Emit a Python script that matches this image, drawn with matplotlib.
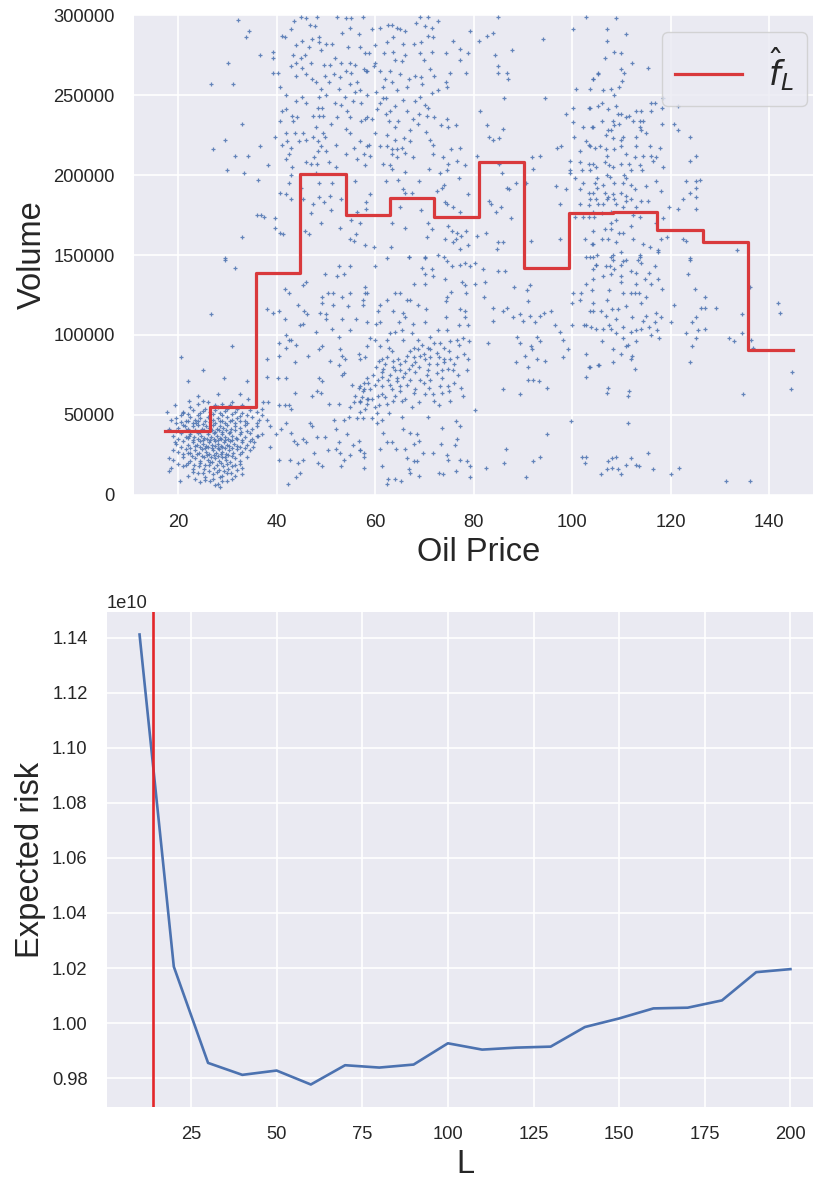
import numpy as np
import matplotlib
matplotlib.use("Agg")
import matplotlib.pyplot as plt

# ---------------- data ----------------
# Step estimate f_L : bin edges (oil price) and bin means (volume, thousands)
bin_edges = [17.4, 26.5, 35.9, 44.8, 54.0, 63.0, 72.0, 81.2, 90.3, 99.3, 108.3, 117.3, 126.6, 135.8, 144.8]
bin_means_k = [40.1, 55.3, 138.8, 200.4, 174.9, 185.9, 173.8, 207.9, 142.0, 176.0, 176.8, 165.8, 158.0, 90.5]

# Scatter points (oil price, volume in thousands), read region by region
pts_upper_left = [
    (32.2, 297), (34.4, 290), (33.8, 286), (30.2, 270), (26.7, 257), (31.2, 257), (39.3, 277), (39.3, 273),
    (36.7, 275), (39.3, 264), (40.3, 264), (40.6, 255), (41.1, 287), (41.6, 286), (42.9, 291), (43.5, 296),
    (44.9, 299), (45.9, 298), (46.8, 294), (47.7, 293), (48.2, 299), (45.2, 284), (46.5, 280), (47.2, 285),
    (48.7, 286), (48.7, 283), (50.0, 282), (51.3, 282), (52.2, 299), (54.1, 298), (55.2, 298), (57.5, 299),
    (53.3, 289), (54.8, 292), (56.7, 288), (54.5, 280), (58.7, 276), (43.4, 275), (44.9, 273), (45.7, 275),
    (43.9, 270), (43.0, 268), (45.2, 267), (45.9, 263), (47.2, 260), (48.0, 258), (49.7, 269), (50.9, 269),
    (51.9, 273), (53.0, 270), (54.9, 270), (56.0, 269), (54.0, 265), (55.2, 264), (57.7, 266), (58.4, 265),
    (49.8, 262), (51.6, 263), (52.8, 261), (50.6, 258), (52.6, 254), (54.9, 257), (56.3, 258), (57.0, 253),
    (49.1, 254), (48.6, 249), (45.2, 249), (48.3, 242), (51.8, 245), (53.9, 249), (55.5, 246), (57.2, 245),
    (41.8, 241), (43.1, 237), (44.1, 236), (43.4, 234), (47.3, 237), (48.6, 237), (49.4, 237), (40.6, 234),
    (49.3, 242), (52.2, 236), (54.2, 240), (57.1, 234), (58.4, 236), (32.9, 232), (29.6, 222), (27.0, 216),
    (31.6, 212), (34.1, 212), (29.9, 203), (33.4, 201), (36.7, 218), (38.3, 206), (39.7, 224), (41.9, 226),
    (43.8, 226), (42.1, 221), (41.1, 219), (42.5, 213), (41.8, 210), (43.1, 205), (43.0, 217), (44.5, 221),
    (45.4, 226), (47.4, 224), (48.4, 221), (49.4, 226), (49.9, 224), (47.6, 211), (48.4, 215), (46.9, 207),
    (48.2, 207), (49.1, 218), (45.9, 208), (50.6, 208), (52.0, 219), (54.1, 229), (54.9, 226), (57.0, 221),
    (55.7, 217), (56.4, 210), (57.8, 213), (58.7, 219), (48.0, 201), (42.5, 195), (40.7, 189), (42.0, 188),
    (42.9, 185), (45.4, 185), (47.3, 182), (48.7, 186), (49.7, 183), (50.9, 187), (51.2, 195), (48.6, 195),
    (36.3, 197), (36.1, 175), (36.9, 175), (37.5, 174), (39.6, 173), (39.6, 167), (40.7, 164), (41.2, 163),
    (45.7, 165), (46.5, 163), (52.9, 167), (55.1, 172), (56.3, 177), (58.1, 179), (56.1, 163), (55.8, 159),
    (58.0, 156), (32.9, 161), (29.6, 148),
    (42, 250), (44, 262), (46, 245), (47, 270), (49, 278), (50, 250), (51, 232), (53, 244), (55, 236),
    (56, 252), (57, 280), (44, 281), (46, 222), (48, 230), (50, 215), (52, 205), (54, 213), (56, 196),
    (58, 206), (43, 200), (45, 192), (47, 176), (49, 170), (51, 178), (53, 185), (55, 160), (57, 170),
    (59, 188), (41, 240), (44, 246),
]

pts_upper_mid = [
    (59.3, 291), (61.0, 292), (62.7, 294), (64.4, 292), (65.0, 291), (63.4, 294), (69.1, 299), (70.8, 299),
    (72.8, 296), (68.3, 295), (70.1, 293), (71.5, 292), (70.8, 287), (71.8, 286), (69.3, 283), (67.8, 282),
    (65.6, 282), (63.7, 286), (62.4, 283), (60.0, 281), (58.0, 276), (61.8, 276), (63.7, 277), (66.1, 275),
    (65.4, 271), (63.0, 265), (61.0, 265), (58.2, 265), (59.7, 268), (65.1, 263), (66.8, 260), (69.4, 261),
    (71.1, 266), (69.1, 276), (71.5, 277), (74.4, 276), (75.9, 284), (77.2, 279), (78.9, 276), (77.2, 272),
    (75.3, 264), (78.5, 264), (74.4, 258), (74.7, 255), (72.7, 253), (71.5, 251), (69.5, 257), (66.4, 255),
    (64.4, 253), (63.4, 258), (61.7, 255), (60.2, 252), (58.3, 250), (61.6, 248), (62.2, 248), (65.6, 247),
    (68.0, 246), (69.1, 249), (70.1, 244), (70.8, 242), (66.4, 240), (64.1, 243), (62.2, 238), (60.3, 241),
    (59.3, 235), (58.0, 235), (62.9, 234), (64.7, 234), (67.6, 235), (70.6, 237), (74.7, 235), (74.9, 230),
    (76.4, 231), (73.4, 231), (68.8, 232), (64.1, 230), (65.8, 223), (62.4, 225), (64.1, 222), (67.0, 221),
    (70.4, 227), (71.2, 222), (71.8, 219), (61.0, 218), (62.4, 218), (63.4, 216), (64.4, 216), (65.4, 217),
    (58.3, 218), (59.0, 212), (63.4, 213), (64.4, 211), (67.6, 211), (71.7, 213), (73.7, 211), (75.5, 216),
    (77.2, 217), (74.8, 207), (76.6, 209), (78.3, 206), (74.7, 203), (73.1, 201), (61.6, 207), (63.4, 204),
    (66.1, 202), (62.2, 196), (64.7, 197), (65.6, 191), (66.1, 189), (67.4, 189), (72.5, 190), (73.5, 192),
    (58.2, 183), (74.2, 183), (74.7, 182), (75.8, 180), (69.4, 178), (77.2, 177), (78.9, 188), (63.4, 170),
    (66.1, 167), (70.8, 170), (71.5, 166), (74.9, 168), (75.6, 165), (76.6, 164), (77.4, 162), (76.5, 160),
    (78.4, 165), (70.5, 161), (74.2, 160), (75.8, 158), (77.2, 154), (78.9, 156), (80.7, 162), (59.7, 155),
    (63.2, 155), (66.8, 149), (70.1, 149), (73.9, 149), (79.3, 290), (81.2, 284), (82.8, 287), (84.0, 289),
    (85.0, 299), (84.3, 275), (87.8, 278), (85.0, 268), (85.0, 264), (86.7, 264), (86.9, 260), (94.1, 285),
    (86.1, 248), (81.4, 240), (82.8, 231), (83.2, 224), (84.0, 222), (85.2, 223), (85.9, 229), (80.7, 212),
    (85.2, 207), (85.7, 201), (86.7, 192), (87.2, 191), (88.6, 195), (90.6, 195), (83.2, 184), (83.6, 182),
    (85.5, 180), (84.6, 177), (87.6, 173), (82.5, 164), (85.0, 158), (85.9, 158), (84.7, 154), (91.6, 159),
    (91.8, 211), (93.5, 212), (92.1, 204), (94.5, 248), (96.8, 193), (97.5, 182), (98.7, 191), (97.8, 218),
    (96.9, 217), (97.5, 160), (99.5, 209), (99.5, 203), (99.5, 201), (100.2, 291), (102.9, 299), (100.8, 254),
    (103.6, 254), (104.3, 260), (105.2, 263), (98.7, 238), (100.2, 242), (100.2, 233), (100.3, 224),
    (102.2, 230), (103.6, 242), (102.9, 221), (103.6, 218), (104.6, 217), (104.3, 230), (101.6, 215),
    (101.6, 208), (102.0, 203), (103.6, 203), (104.3, 207), (100.5, 198), (101.6, 191), (102.3, 195),
    (104.3, 189), (105.0, 192), (101.6, 182), (103.6, 185), (105.3, 182), (100.5, 174), (102.3, 174),
    (103.4, 174), (104.5, 174), (102.6, 160), (104.0, 157), (104.3, 149), (102.9, 149),
    (60, 270), (62, 260), (64, 272), (66, 290), (68, 262), (70, 272), (72, 262), (61, 245), (63, 240),
    (67, 228), (69, 238), (72, 236), (60, 226), (63, 206), (66, 214), (69, 196), (71, 204), (74, 194),
    (77, 198), (65, 180),
]

pts_upper_right = [
    (109.0, 298), (107.1, 291), (110.9, 288), (107.1, 284), (108.5, 277), (110.0, 276), (106.6, 273),
    (112.2, 270), (115.4, 267), (105.2, 264), (104.2, 260), (110.0, 266), (110.6, 264), (110.2, 259),
    (106.2, 253), (107.9, 254), (109.6, 255), (108.6, 250), (116.1, 245), (116.8, 245), (118.2, 242),
    (116.1, 240), (118.5, 248), (121.5, 243), (103.5, 242), (105.2, 243), (107.3, 241), (109.3, 238),
    (110.0, 238), (111.6, 237), (113.0, 240), (108.3, 234), (108.6, 231), (109.6, 232), (112.3, 234),
    (113.7, 234), (114.4, 234), (106.0, 234), (107.3, 228), (106.8, 225), (108.3, 223), (110.3, 224),
    (113.7, 230), (114.0, 228), (113.0, 224), (118.3, 232), (120.8, 232), (121.5, 228), (123.9, 224),
    (103.5, 219), (105.6, 218), (106.9, 216), (108.6, 216), (110.0, 218), (111.0, 213), (112.7, 211),
    (114.4, 212), (115.8, 218), (117.8, 217), (116.4, 209), (117.1, 211), (125.2, 212), (123.9, 209),
    (103.5, 207), (104.9, 205), (106.6, 208), (107.6, 206), (108.3, 205), (110.0, 207), (111.6, 207),
    (113.7, 206), (118.5, 205), (114.3, 203), (107.0, 200), (107.7, 199), (110.6, 200), (104.6, 195),
    (106.3, 194), (108.6, 195), (110.3, 195), (112.0, 194), (112.7, 191), (117.1, 196), (123.2, 196),
    (125.2, 196), (126.0, 197), (103.5, 189), (106.6, 189), (108.3, 188), (110.0, 189), (111.0, 187),
    (118.0, 190), (123.9, 189), (125.2, 192), (104.9, 185), (107.3, 186), (108.6, 185), (111.0, 184),
    (112.0, 185), (114.0, 184), (122.5, 185), (125.1, 186), (103.5, 181), (106.3, 182), (108.9, 182),
    (110.3, 180), (115.4, 184), (119.7, 180), (121.5, 179), (125.1, 179), (104.2, 177), (107.9, 177),
    (112.3, 175), (113.7, 174), (118.5, 173), (104.2, 165), (106.6, 166), (107.9, 170), (109.6, 164),
    (110.3, 164), (119.2, 161), (122.5, 160), (123.2, 159), (104.2, 157), (107.3, 160), (109.0, 158),
    (112.3, 160), (114.4, 157), (115.8, 155), (117.4, 153), (133.4, 153), (113.7, 150), (107.9, 149),
    (123.9, 148),
    (104, 230), (106, 245), (107, 212), (108, 228), (109, 243), (110, 222), (111, 236), (112, 203),
    (113, 218), (114, 240), (115, 226), (116, 212), (105, 198), (107, 185), (109, 172), (111, 198),
    (113, 180), (115, 193), (117, 170), (106, 176), (108, 166), (112, 168), (118, 160), (106, 160),
]

pts_cluster = [
    (24, 57), (26, 58), (27.5, 56), (29, 57), (31, 58), (33, 56), (25, 59),
    (21, 52), (23, 53), (24.5, 51), (25.5, 54), (26.5, 52), (27.5, 53), (28.5, 51), (30, 54), (31.5, 52),
    (33, 51), (34.5, 53), (36, 52), (37, 54),
    (19.5, 48), (21.5, 46), (22.5, 49), (23.5, 47), (24.5, 48), (25.5, 46), (26, 49), (27, 47), (28, 48),
    (29, 46), (30, 49), (31, 47), (32, 48), (33.5, 46), (35, 49), (36.5, 47),
    (20, 42), (21, 44), (22, 41), (23, 43), (24, 44), (24.8, 41), (25.6, 43), (26.3, 42), (27, 44),
    (27.8, 41), (28.5, 43), (29.2, 42), (30, 44), (30.8, 41), (31.5, 43), (32.5, 42), (33.5, 44), (35, 41),
    (36, 43),
    (19, 37), (20.5, 39), (21.5, 36), (22.5, 38), (23.3, 36), (24, 39), (24.7, 37), (25.3, 35.5), (26, 38),
    (26.6, 36), (27.2, 39), (27.8, 37), (28.4, 35.5), (29, 38), (29.6, 36), (30.3, 39), (31, 37),
    (31.8, 35.5), (32.6, 38), (33.5, 36), (34.5, 39), (36, 37),
    (19.5, 32), (21, 34), (22, 31), (23, 33), (23.8, 31), (24.5, 34), (25.1, 32), (25.7, 30.5), (26.3, 33),
    (26.9, 31), (27.5, 34), (28.1, 32), (28.7, 30.5), (29.3, 33), (29.9, 31), (30.6, 34), (31.3, 32),
    (32, 30.5), (33, 33), (34, 31), (35.5, 33),
    (20, 27), (21.5, 29), (22.5, 26), (23.5, 28), (24.2, 26), (24.9, 29), (25.6, 27), (26.3, 25.5), (27, 28),
    (27.6, 26), (28.3, 29), (29, 27), (29.7, 25.5), (30.4, 28), (31.2, 26), (32, 29), (33, 27), (34.5, 28),
    (19, 22), (21, 24), (22.5, 21), (23.5, 23), (24.5, 21), (25.3, 24), (26, 22), (26.8, 20.5), (27.5, 23),
    (28.2, 21), (29, 24), (29.8, 22), (30.6, 20.5), (31.5, 23), (32.5, 21), (34, 24),
    (18.5, 17), (21.5, 19), (23, 16), (24.2, 18), (25.2, 16), (26.2, 19), (27.2, 17), (28.2, 15.5),
    (29.2, 18), (30.2, 16), (31.5, 19), (33, 17),
    (22, 12), (24, 14), (25.5, 11), (27, 13), (28.5, 11), (30, 14), (31.5, 12), (33, 13), (29, 12),
    (24.5, 8), (26.5, 9), (28, 7), (30, 9), (27.5, 6),
    (22.5, 55), (28, 55), (30.5, 56), (32, 54),
    (20.5, 50), (22, 50.5), (24, 50), (25, 52.5), (27, 50.5), (29, 50), (29.5, 52.5), (31, 50.5),
    (32.5, 49.5), (34, 50),
    (20.5, 45.5), (22, 46.5), (23, 45), (24, 46), (25, 44.5), (26.5, 45.5), (27.5, 45), (28.5, 46.5),
    (29.5, 45), (30.5, 46.5), (31.5, 45), (32.5, 46), (34, 45),
    (19.5, 40), (21.5, 40.5), (22.5, 39.5), (23.5, 40.5), (24.5, 39.5), (25.3, 40.5), (26, 39.5),
    (26.8, 40.5), (27.5, 39.5), (28.2, 40.5), (29, 39.5), (29.8, 40.5), (30.5, 39.5), (31.5, 40.5),
    (32.8, 39.5), (34, 40),
    (20, 35), (22, 35.5), (23, 34.5), (24, 35), (25, 34.5), (25.8, 35), (26.5, 34.5), (27.2, 35), (28, 34.5),
    (28.8, 35), (29.5, 34.5), (30.2, 35), (31, 34.5), (32, 35), (33, 34.5), (35, 35),
    (20.5, 30), (22.5, 29.5), (23.5, 30.5), (24.5, 30), (25.4, 29.5), (26.1, 30), (26.8, 29.5),
    (27.4, 30.5), (28, 29.5), (28.9, 30), (29.6, 29.5), (30.3, 30.5), (31, 29.5), (32.5, 30), (33.5, 29.5),
    (21, 25.5), (22.8, 24.5), (23.8, 25.5), (24.8, 24.5), (25.8, 25), (26.6, 24), (27.3, 25), (28, 24.5),
    (28.7, 25.5), (29.5, 24), (30.2, 25), (31, 24.5), (32.5, 25.5),
    (20, 19.5), (22, 20), (23.2, 19), (24.5, 20), (25.5, 18.5), (26.5, 20.5), (27.8, 19), (28.8, 20),
    (30, 19.5), (31, 18), (32.5, 19.5),
    (23, 14.5), (25, 13.5), (26.3, 15), (27.8, 14.5), (29.3, 15), (30.8, 14), (32, 15.5),
    (23.5, 10), (25.5, 9.5), (27, 10), (29, 9), (31, 10), (28.5, 5),
]

pts_lower_left = [
    (29.6, 147), (31.6, 142), (26.7, 113), (30.9, 93), (20.5, 86), (25.0, 78), (29.3, 73), (33.9, 71),
    (22.0, 71), (24.0, 62), (28.1, 63), (32.5, 63), (34.2, 60), (37.3, 58), (38.3, 58), (19.3, 56),
    (22.3, 59), (17.7, 52), (21.0, 51), (18.6, 47), (19.6, 45), (18.2, 41), (19.3, 33), (18.9, 28),
    (18.2, 23), (18.1, 15), (20.3, 9), (21.0, 18), (22.0, 26), (22.3, 37), (21.3, 43), (23.7, 45),
    (38.0, 116), (39.3, 114), (40.5, 115), (41.7, 129), (42.6, 126), (45.4, 131), (45.9, 133), (49.9, 138),
    (52.3, 137), (53.7, 138), (52.6, 143), (54.8, 143), (49.2, 124), (50.5, 126), (51.5, 126), (53.2, 124),
    (55.0, 126), (58.0, 126), (57.6, 122), (49.2, 120), (51.5, 119), (54.4, 118), (41.7, 110), (44.4, 119),
    (45.6, 115), (46.1, 113), (44.8, 106), (45.3, 107), (47.9, 102), (48.9, 114), (50.1, 113), (50.1, 110),
    (53.2, 110), (56.2, 110), (51.3, 104), (54.9, 103), (42.0, 100), (42.6, 97), (43.0, 97), (40.5, 95),
    (41.9, 92), (43.9, 94), (38.0, 85), (40.5, 87), (43.7, 83), (46.3, 87), (49.2, 93), (48.6, 91),
    (52.6, 99), (52.9, 91), (53.3, 87), (53.9, 85), (56.7, 88), (57.0, 85), (50.9, 84), (52.6, 81),
    (53.7, 76), (53.3, 75), (38.0, 74), (40.3, 73), (42.0, 73), (48.7, 73), (49.2, 71), (48.2, 65),
    (49.1, 64), (47.1, 62), (43.8, 64), (50.7, 57), (55.3, 69), (56.7, 67), (57.7, 70), (57.7, 66),
    (58.4, 60), (57.0, 59), (55.8, 58), (55.0, 55), (52.6, 57), (51.7, 47), (53.6, 47), (54.6, 49),
    (56.3, 48), (57.6, 48), (40.5, 56), (41.7, 56), (42.6, 56), (43.0, 54), (37.0, 50), (38.0, 47),
    (36.0, 45), (38.6, 43), (39.9, 38), (40.8, 41), (37.0, 38), (35.2, 30), (36.3, 37), (34.6, 34),
    (38.6, 30), (42.0, 45), (43.0, 39), (43.5, 34), (44.1, 32), (45.4, 35), (45.9, 33), (47.1, 43),
    (46.8, 45), (47.5, 26), (42.7, 22), (44.4, 20), (45.4, 22), (40.5, 22), (42.4, 7), (43.9, 11),
    (44.8, 14), (48.5, 20), (49.2, 18), (50.5, 28), (52.1, 29), (52.9, 26), (53.6, 22), (54.9, 25),
    (55.5, 31), (56.7, 34), (57.0, 28), (57.7, 26), (53.1, 18), (48.2, 36), (49.9, 36), (52.1, 41),
    (54.3, 38), (52.6, 33),
]

pts_lower_mid = [
    (60.0, 143), (62.4, 148), (66.8, 149), (70.1, 148), (72.8, 150), (74.7, 146), (75.6, 143), (77.2, 144),
    (78.2, 145), (79.3, 143), (80.3, 145), (69.5, 142), (71.5, 141), (70.1, 138), (71.8, 137), (74.2, 135),
    (77.6, 133), (78.3, 131), (80.3, 132), (67.8, 132), (70.1, 132), (58.0, 130), (58.4, 126), (64.1, 126),
    (65.1, 126), (66.4, 122), (67.1, 122), (62.4, 122), (57.6, 119), (61.0, 119), (68.8, 119), (74.5, 124),
    (74.4, 121), (75.4, 127), (78.5, 126), (70.3, 116), (63.7, 115), (60.5, 115), (65.6, 114), (77.2, 116),
    (78.2, 115), (78.2, 111), (74.4, 111), (66.1, 111), (58.4, 108), (60.2, 107), (61.0, 108), (64.9, 108),
    (67.6, 107), (70.1, 108), (72.8, 103), (74.7, 103), (77.0, 106), (78.9, 106), (63.0, 101), (65.4, 103),
    (67.4, 101), (64.1, 102),
    (59.0, 98), (60.0, 97), (62.4, 97), (65.7, 97), (68.8, 97), (71.1, 99), (73.2, 95), (75.2, 96),
    (76.6, 97), (77.9, 98), (58.3, 93), (61.0, 93), (62.9, 92), (63.4, 90), (67.8, 92), (68.8, 91),
    (70.8, 92), (71.1, 91), (72.5, 89), (73.9, 85), (75.2, 85), (76.6, 86), (78.9, 85), (58.0, 86),
    (60.7, 84), (61.4, 85), (62.4, 86), (63.7, 84), (64.7, 85), (66.1, 84), (67.8, 86), (69.1, 87),
    (70.1, 85), (71.1, 86), (72.5, 82), (74.9, 79), (75.9, 78), (76.9, 75), (78.6, 78), (60.2, 80),
    (61.7, 79), (63.7, 80), (65.1, 78), (66.8, 79), (68.1, 77), (70.8, 78), (73.5, 78), (58.3, 73),
    (61.4, 74), (62.7, 72), (64.4, 71), (65.7, 74), (66.4, 69), (69.1, 72), (71.1, 72), (73.1, 68),
    (74.9, 68), (57.0, 68), (59.0, 66), (60.0, 69), (61.4, 68), (63.4, 66), (65.1, 65), (67.8, 64),
    (70.1, 63), (71.8, 63), (73.5, 64), (77.9, 62), (57.4, 61), (59.4, 60), (60.5, 62), (62.0, 61),
    (63.7, 59), (65.4, 59), (57.0, 58), (58.3, 57), (58.0, 54), (60.7, 56), (62.9, 51), (67.4, 55),
    (73.0, 56), (75.3, 59), (60.4, 51), (59.3, 48), (61.4, 47), (65.4, 49), (70.8, 49), (80.3, 53),
    (56, 62), (57.5, 65), (58.5, 70), (59.5, 75), (60.5, 72), (61.5, 77), (62, 82), (63, 75), (64, 78),
    (65, 82), (66, 76), (66.5, 87), (67, 90), (68, 83), (69, 80), (69.5, 94), (70, 88), (71, 82),
    (72, 95), (72.5, 76), (73, 86), (74, 92), (75, 90), (76, 82), (77, 94), (78, 88), (79, 96), (57, 52),
    (58.5, 60), (60, 55), (61.5, 63), (62.5, 57), (64, 62), (65, 68), (66, 60), (67, 72), (68, 66),
    (69, 58), (70, 70), (71, 67), (72, 59), (73.5, 73), (75, 65), (76, 70), (77.5, 67), (63, 69),
    (64.5, 73), (67.5, 81), (70.5, 75), (74, 83),
    (82.0, 141), (82.3, 133), (82.1, 124), (83.9, 109), (83.0, 95), (84.0, 117), (85.9, 115), (86.8, 117),
    (88.2, 130), (86.3, 140), (84.9, 140), (90.9, 128), (91.1, 121), (91.4, 131), (89.4, 113), (90.1, 109),
    (88.0, 111), (91.4, 112), (92.4, 108), (93.4, 112), (94.4, 114), (95.8, 115), (88.9, 99), (89.4, 95),
    (91.6, 93), (91.8, 91), (92.8, 99), (93.4, 96), (90.4, 87), (88.7, 83), (91.1, 80), (92.8, 85),
    (94.6, 84), (96.5, 106), (97.5, 102), (98.2, 97), (99.2, 91), (98.1, 86), (100.0, 106), (91.1, 72),
    (92.0, 72), (93.2, 71), (94.9, 67), (85.9, 66), (89.4, 63), (99.9, 120), (100.2, 126), (101.9, 126),
    (101.6, 122), (102.9, 132), (103.6, 115), (102.9, 106), (102.4, 106), (104.9, 104), (102.9, 88),
    (103.6, 80), (102.9, 74), (105.3, 81), (104.9, 144), (103.6, 149), (104.3, 115),
    (60.3, 45), (61.7, 39), (62.4, 33), (63.4, 33), (61.0, 29), (65.7, 41), (67.1, 39), (68.6, 38),
    (69.0, 34), (67.8, 32), (66.1, 29), (64.3, 29), (69.8, 26), (71.8, 26), (73.5, 42), (73.4, 32),
    (76.4, 46), (77.2, 43), (76.6, 35), (76.3, 31), (74.6, 25), (74.9, 22), (77.2, 22), (78.6, 21),
    (79.3, 18), (66.4, 23), (67.8, 21), (68.5, 21), (57.0, 28), (57.7, 24), (57.7, 17), (61.4, 18),
    (66.8, 16), (67.1, 14), (69.0, 12), (73.0, 14), (73.7, 13), (76.4, 15), (79.3, 11), (62.7, 10),
    (64.1, 10), (65.2, 9), (62.4, 7), (82.6, 17), (86.1, 20), (86.5, 29), (90.7, 11), (92.1, 21),
    (93.4, 24), (94.9, 38), (99.7, 46), (102.1, 24), (102.9, 24), (102.6, 20),
]

pts_lower_right = [
    (104.9, 144), (106.8, 143), (107.7, 143), (108.3, 147), (108.3, 150), (110.0, 144), (110.3, 146),
    (111.0, 147), (113.4, 147), (113.9, 149), (116.8, 143), (117.5, 152), (104.2, 141), (108.6, 141),
    (106.3, 137), (107.9, 138), (104.2, 135), (110.0, 137), (110.0, 133), (113.0, 139), (115.6, 139),
    (114.9, 135), (117.5, 135), (113.0, 132), (118.3, 129), (107.5, 128), (110.3, 126), (112.0, 126),
    (112.7, 126), (113.5, 126), (115.0, 124), (104.2, 120), (105.9, 115), (106.8, 112), (108.1, 116),
    (109.3, 116), (112.2, 111), (114.5, 109), (116.8, 108), (117.1, 114), (118.1, 111), (103.9, 105),
    (106.3, 104), (107.5, 106), (110.3, 105), (112.0, 102), (113.0, 103), (114.0, 104), (115.6, 105),
    (117.3, 103), (108.9, 101), (110.3, 98), (117.6, 98), (111.0, 93), (111.3, 94), (108.3, 91),
    (112.2, 87), (112.0, 85), (103.5, 80), (105.4, 81), (108.3, 83), (112.7, 79), (107.3, 67), (107.0, 64),
    (111.6, 65), (111.4, 62), (111.4, 45), (120.0, 108), (120.7, 119), (123.9, 147), (123.5, 138),
    (124.9, 129), (126.9, 124), (127.1, 117), (126.1, 117), (129.3, 117), (125.2, 111), (124.3, 108),
    (125.6, 103), (126.9, 104), (123.2, 101), (125.2, 98), (124.4, 93), (123.9, 83), (131.9, 98),
    (132.8, 96), (134.6, 101), (134.6, 113), (136.1, 130), (136.4, 97), (136.7, 92), (141.8, 120),
    (142.2, 114), (144.7, 77), (144.4, 66), (134.7, 63), (107.2, 21), (108.1, 23), (108.9, 24), (107.0, 16),
    (108.1, 17), (105.9, 13), (109.3, 16), (110.0, 13), (111.0, 19), (112.0, 23), (113.0, 19), (113.6, 18),
    (115.4, 26), (116.4, 16), (120.0, 13), (121.8, 17), (131.3, 9), (136.1, 9),
    (110, 152), (114, 145), (116, 132), (105, 150), (107, 122), (109, 110), (111, 118), (113, 96),
    (115, 112), (106, 96), (108, 104), (110, 88), (112, 140), (114, 120), (116, 100), (104, 128),
]

# Expected risk versus L
L_values = [10, 20, 30, 40, 50, 60, 70, 80, 90, 100, 110, 120, 130, 140, 150, 160, 170, 180, 190, 200]
risk_e10 = [1.1411, 1.0205, 0.98555, 0.98121, 0.98278, 0.97771, 0.98471, 0.98386, 0.98495, 0.99267,
            0.99038, 0.9911, 0.99146, 0.99858, 1.0017, 1.00534, 1.0056, 1.00824, 1.0185, 1.0196]
L_selected = 14

# ---------------- style ----------------
BG = "#EAEAF2"
TXT = "#262626"
plt.rcParams.update({
    "font.family": ["Liberation Sans", "DejaVu Sans"],
    "text.color": TXT,
    "axes.labelcolor": TXT,
    "xtick.color": TXT,
    "ytick.color": TXT,
    "axes.facecolor": BG,
    "axes.edgecolor": "white",
    "axes.grid": True,
    "grid.color": "white",
    "grid.linewidth": 1.2,
    "axes.axisbelow": True,
    "xtick.major.size": 0,
    "ytick.major.size": 0,
    "xtick.major.pad": 14,
    "ytick.major.pad": 14,
    "xtick.labelsize": 13.2,
    "ytick.labelsize": 13.2,
    "axes.labelsize": 23.5,
    "mathtext.fontset": "dejavusans",
})

W, H = 813, 1179
fig = plt.figure(figsize=(W / 100, H / 100), dpi=100)

def rect(left, top, right, bottom):
    return [left / W, 1 - bottom / H, (right - left) / W, (bottom - top) / H]

# ---------------- top panel ----------------
ax1 = fig.add_axes(rect(134, 15, 824, 495))
all_pts = (pts_upper_left + pts_upper_mid + pts_upper_right + pts_cluster
           + pts_lower_left + pts_lower_mid + pts_lower_right)
oil = np.array([p[0] for p in all_pts])
vol = np.array([p[1] for p in all_pts]) * 1000
ax1.scatter(oil, vol, s=8, marker="+", linewidths=0.9, color="#4c72b0", alpha=0.85, zorder=2)
step_y = np.array(bin_means_k + [bin_means_k[-1]]) * 1000
ax1.step(bin_edges, step_y, where="post", color="#d9393c", lw=2.3, label=r"$\hat{f}_L$", zorder=3)
ax1.set_ylim(0, 300000)
ax1.set_xlabel("Oil Price")
ax1.set_ylabel("Volume")
for s in ax1.spines.values():
    s.set_visible(False)
ax1.legend(loc="upper right", fontsize=24, frameon=True, fancybox=True,
           facecolor=BG, edgecolor="0.8", framealpha=0.8)

# ---------------- bottom panel ----------------
ax2 = fig.add_axes(rect(107, 612, 823, 1107))
ax2.plot(L_values, np.array(risk_e10) * 1e10, color="#4c72b0", lw=1.9, zorder=2)
ax2.axvline(L_selected, color="#e3262a", lw=1.9, zorder=3)
ax2.set_xlabel("L")
ax2.set_ylabel("Expected risk")
ax2.yaxis.get_offset_text().set_fontsize(13.2)
for s in ax2.spines.values():
    s.set_visible(False)

fig.savefig("out.png", dpi=100)
